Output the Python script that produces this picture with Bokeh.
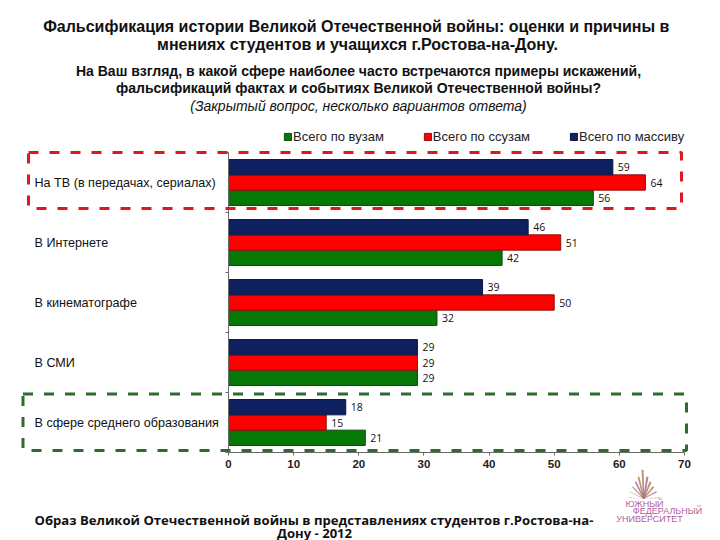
from bokeh.plotting import figure
from bokeh.core.properties import value
from bokeh.models import (ColumnDataSource, Label, LabelSet, BoxAnnotation, PolyAnnotation,
                          Legend, LegendItem, FixedTicker, Range1d, LinearAxis)
from bokeh.embed import file_html
from bokeh.resources import INLINE

title_lines = ["Фальсификация  истории Великой Отечественной войны: оценки и причины в",
               "мнениях студентов и учащихся г.Ростова-на-Дону."]
question_lines = ["На Ваш взгляд, в какой сфере наиболее часто встречаются примеры искажений,",
                  "фальсификаций фактах и событиях Великой Отечественной войны?"]
note_line = "(Закрытый вопрос, несколько вариантов ответа)"
footer_lines = ["Образ Великой Отечественной войны в представлениях студентов г.Ростова-на-",
                "Дону - 2012"]
categories = ["На ТВ (в передачах, сериалах)", "В Интернете", "В кинематографе", "В СМИ",
              "В сфере среднего образования"]
series_names = ["Всего по вузам", "Всего по ссузам", "Всего по массиву"]
vuz = [56, 42, 32, 29, 21]
ssuz = [64, 51, 50, 29, 15]
massiv = [59, 46, 39, 29, 18]
x_ticks = [0, 10, 20, 30, 40, 50, 60, 70]

W, H = 720, 540
X0, Y0, PX, PY = 228, 452, 456 / 70, 60   # where the plot origin sits, and pixels per unit
def sx(x): return x
def sy(y): return H - y

p = figure(width=W, height=H, output_backend="svg", toolbar_location=None,
           x_range=Range1d(-X0 / PX, (W - X0) / PX), y_range=Range1d(-(H - Y0) / PY, Y0 / PY),
           frame_width=W, frame_height=H, x_axis_location=None, y_axis_location=None,
           min_border=0)
p.grid.visible = False
p.outline_line_color = None
p.background_fill_color = "white"
p.border_fill_color = "white"

ax = LinearAxis(fixed_location=0, bounds=(0, 70), ticker=FixedTicker(ticks=x_ticks))
ax.axis_line_color = "#6a6a6a"
ax.major_tick_line_color = "#6a6a6a"
ax.major_tick_out = 3
ax.major_tick_in = 0
ax.minor_tick_line_color = None
ax.major_label_text_font = "Liberation Sans"
ax.major_label_text_font_size = "11.5px"
ax.major_label_text_font_style = "bold"
ax.major_label_text_color = "#222222"
ax.major_label_standoff = 4
p.add_layout(ax, "below")

ay = LinearAxis(fixed_location=0, bounds=(0, 5), ticker=FixedTicker(ticks=[0, 1, 2, 3, 4, 5]))
ay.axis_line_color = "#6a6a6a"
ay.major_tick_line_color = "#6a6a6a"
ay.major_tick_out = 3
ay.major_tick_in = 0
ay.minor_tick_line_color = None
ay.major_label_text_color = None
ay.major_label_text_font_size = "1px"
p.add_layout(ay, "left")

ys = [4.5 - i for i in range(5)]
bar_h = 0.255
cols = ["#067806", "#FF0000", "#0F2060"]
edges = ["#0b4a0b", "#8a1010", "#0a1640"]
offs = [-bar_h, 0, bar_h]
rends = []
for vals, c, e, o in zip([vuz, ssuz, massiv], cols, edges, offs):
    src = ColumnDataSource(dict(y=[v + o for v in ys], v=vals, t=[str(v) for v in vals]))
    r = p.hbar(y="y", right="v", left=0, height=bar_h, source=src, fill_color=c, line_color=e, line_width=1)
    rends.append(r)
    p.add_layout(LabelSet(x="v", y="y", text="t", source=src, x_offset=5, text_baseline="middle",
                          text_font=value("Open Sans"), text_font_size="10.5px", text_color="#111111"))

cat_src = ColumnDataSource(dict(y=ys, t=categories, x=[sx(34)] * 5))
p.add_layout(LabelSet(x="x", y="y", text="t", source=cat_src, x_units="screen", y_units="data",
                      text_baseline="middle", text_font=value("Liberation Sans"), text_font_size="12.6px",
                      text_color="#111111"))

leg = Legend(items=[LegendItem(label=n, renderers=[r]) for n, r in zip(series_names, rends)],
             orientation="horizontal", location=(sx(283), sy(144)), glyph_width=9, glyph_height=9,
             label_standoff=1, spacing=39, padding=0, margin=0, border_line_color=None,
             background_fill_alpha=0, label_text_font="Liberation Sans", label_text_font_size="13px",
             label_text_color="#222222", label_height=12)
p.add_layout(leg)

def text(s, x, y, size, font="Liberation Sans", style="bold", align="center", color="#111111"):
    p.add_layout(Label(x=sx(x), y=sy(y), x_units="screen", y_units="screen", text=s, text_align=align,
                       text_baseline="middle", text_font=font, text_font_size=size, text_font_style=style,
                       text_color=color))

text(title_lines[0], 358, 26, "16px")
text(title_lines[1], 357, 44, "16px")
text(question_lines[0], 358, 70, "14px")
text(question_lines[1], 358, 87, "14px")
text(note_line, 358, 105, "14px", style="italic")
text(footer_lines[0], 34, 519, "13.1px", font="Open Sans", align="left")
text(footer_lines[1], 314, 532, "13.1px", font="Open Sans", align="center")

def box(l, r, t, b, c):
    p.add_layout(BoxAnnotation(left=sx(l), right=sx(r), top=sy(t), bottom=sy(b),
                               left_units="screen", right_units="screen", top_units="screen", bottom_units="screen",
                               fill_alpha=0, line_alpha=1, line_color=c, line_width=3, line_dash="10 11"))
box(28, 681, 152, 208, "#DD1820")
box(22.5, 686, 393.5, 450, "#2F6B2F")

# university logo: a fan of thin rays above its three lines of text
ray_tips = [(627, 497), (628, 491), (631, 486), (634, 481), (637, 476), (641, 469),
            (646, 476), (649, 481), (652, 486), (655, 491), (659, 497)]
for i, (tx, ty) in enumerate(ray_tips):
    p.add_layout(PolyAnnotation(xs=[sx(tx), sx(642.5), sx(644), sx(tx + 2)],
                                ys=[sy(ty), sy(498), sy(498), sy(ty + 0.5)],
                                xs_units="screen", ys_units="screen",
                                fill_color="#a8825c" if i % 3 else "#b0609a", fill_alpha=0.85, line_alpha=0))

text("ЮЖНЫЙ", 644, 503, "9px", color="#b0609a", style="normal")
text("ФЕДЕРАЛЬНЫЙ", 667, 510, "9px", color="#b0609a", style="normal")
text("УНИВЕРСИТЕТ", 649, 518, "9px", color="#b0609a", style="normal")

open("out.html", "w").write(file_html(p, INLINE))
